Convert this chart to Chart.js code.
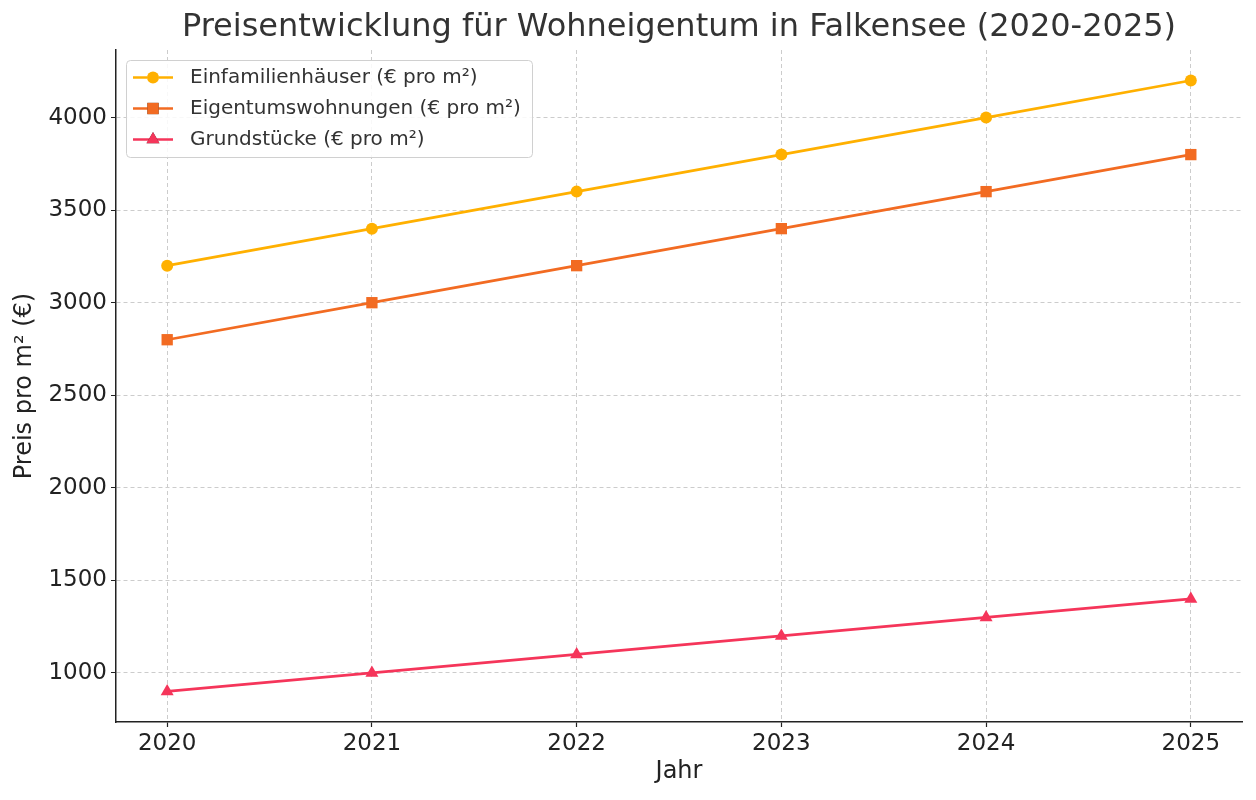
<!DOCTYPE html>
<html>
<head>
<meta charset="utf-8">
<script src="https://cdn.jsdelivr.net/npm/chart.js@4.4.1/dist/chart.umd.min.js"></script>
<style>
  html, body { margin: 0; padding: 0; background: #fff; }
  #wrap { width: 1256px; height: 800px; }
</style>
</head>
<body>
<div id="wrap"><canvas id="priceChart" width="1256" height="800"></canvas></div>
<script>
// Data
const years = [2020, 2021, 2022, 2023, 2024, 2025];
const einfamilienhaeuser = [3200, 3400, 3600, 3800, 4000, 4200];
const eigentumswohnungen = [2800, 3000, 3200, 3400, 3600, 3800];
const grundstuecke = [900, 1000, 1100, 1200, 1300, 1400];
const yTicks = [1000, 1500, 2000, 2500, 3000, 3500, 4000];

const seriesLabels = ['Einfamilienhäuser (€ pro m²)', 'Eigentumswohnungen (€ pro m²)', 'Grundstücke (€ pro m²)'];
const seriesColors = ['#FFB000', '#F26B22', '#F5355A'];
const seriesMarkers = ['circle', 'rect', 'triangle'];
const markerRadius = { circle: 6, rect: 8, triangle: 7.5 };

const FONT = "'DejaVu Sans', sans-serif";

function toPoints(values) {
    return values.map((v, i) => ({ x: years[i], y: v }));
}

function makeDataset(idx, values) {
    return {
        label: seriesLabels[idx],
        data: toPoints(values),
        borderColor: seriesColors[idx],
        backgroundColor: seriesColors[idx],
        borderWidth: 2.7,
        pointStyle: seriesMarkers[idx],
        pointRadius: markerRadius[seriesMarkers[idx]],
        pointBorderWidth: 0,
        tension: 0
    };
}

// Title drawn over the plot centre (matplotlib style)
const titlePlugin = {
    id: 'plotTitle',
    afterDraw(chart) {
        const c = chart.ctx;
        const area = chart.chartArea;
        c.save();
        c.font = '32px ' + FONT;
        c.fillStyle = '#333333';
        c.textAlign = 'center';
        c.textBaseline = 'middle';
        c.fillText('Preisentwicklung für Wohneigentum in Falkensee (2020-2025)', (area.left + area.right) / 2, 28);
        c.restore();
    }
};

// Legend box in the upper left of the plot
const legendPlugin = {
    id: 'boxLegend',
    afterDraw(chart) {
        const c = chart.ctx;
        const x0 = 126, y0 = 60, w = 406, h = 97;
        c.save();
        c.fillStyle = 'rgba(255,255,255,0.85)';
        c.strokeStyle = '#d0d0d0';
        c.lineWidth = 1;
        c.beginPath();
        c.roundRect(x0 + 0.5, y0 + 0.5, w, h, 4);
        c.fill();
        c.stroke();
        c.font = '20px ' + FONT;
        c.textBaseline = 'middle';
        c.textAlign = 'left';
        chart.data.datasets.forEach((ds, i) => {
            const y = y0 + 17.5 + i * 31;
            c.strokeStyle = ds.borderColor;
            c.lineWidth = 2.7;
            c.beginPath();
            c.moveTo(x0 + 7, y);
            c.lineTo(x0 + 47, y);
            c.stroke();
            Chart.helpers.drawPoint(c, {
                pointStyle: ds.pointStyle,
                radius: ds.pointRadius,
                rotation: 0,
                borderWidth: 0
            }, x0 + 27, y);
            c.fillStyle = ds.borderColor;
            c.fill();
            c.fillStyle = '#333333';
            c.fillText(ds.label, x0 + 64, y);
        });
        c.restore();
    }
};

const ctx = document.getElementById('priceChart').getContext('2d');
const priceChart = new Chart(ctx, {
    type: 'line',
    data: {
        datasets: [
            makeDataset(0, einfamilienhaeuser),
            makeDataset(1, eigentumswohnungen),
            makeDataset(2, grundstuecke)
        ]
    },
    options: {
        responsive: false,
        animation: false,
        layout: { padding: { top: 50, left: 0, right: 14, bottom: 0 } },
        plugins: {
            legend: { display: false },
            tooltip: { enabled: false }
        },
        scales: {
            x: {
                type: 'linear',
                min: 2019.75,
                max: 2025.25,
                afterBuildTicks(scale) {
                    scale.ticks = years.map(v => ({ value: v }));
                },
                afterFit(scale) { scale.height = 78; },
                ticks: {
                    color: '#222',
                    font: { family: FONT, size: 23 },
                    padding: 3,
                    maxRotation: 0,
                    callback: v => String(v)
                },
                grid: {
                    color: '#cccccc',
                    lineWidth: 1,
                    tickColor: '#222',
                    tickLength: 5,
                    tickWidth: 1.2,
                    tickBorderDash: [1, 0]
                },
                border: { display: true, color: '#222', width: 1.5, dash: [4, 3] },
                title: {
                    display: true,
                    text: 'Jahr',
                    color: '#222',
                    font: { family: FONT, size: 24 },
                    padding: { top: 0, bottom: 14 }
                }
            },
            y: {
                min: 735,
                max: 4365,
                afterBuildTicks(scale) {
                    scale.ticks = yTicks.map(v => ({ value: v }));
                },
                afterFit(scale) { scale.width = 116; },
                ticks: {
                    color: '#222',
                    font: { family: FONT, size: 23 },
                    padding: 4,
                    callback: v => String(v)
                },
                grid: {
                    color: '#cccccc',
                    lineWidth: 1,
                    tickColor: '#222',
                    tickLength: 5,
                    tickWidth: 1.2,
                    tickBorderDash: [1, 0]
                },
                border: { display: true, color: '#222', width: 1.5, dash: [4, 3] },
                title: {
                    display: true,
                    text: 'Preis pro m² (€)',
                    color: '#222',
                    font: { family: FONT, size: 24 },
                    padding: { top: 10, bottom: 0 }
                }
            }
        }
    },
    plugins: [titlePlugin, legendPlugin]
});
</script>
</body>
</html>
